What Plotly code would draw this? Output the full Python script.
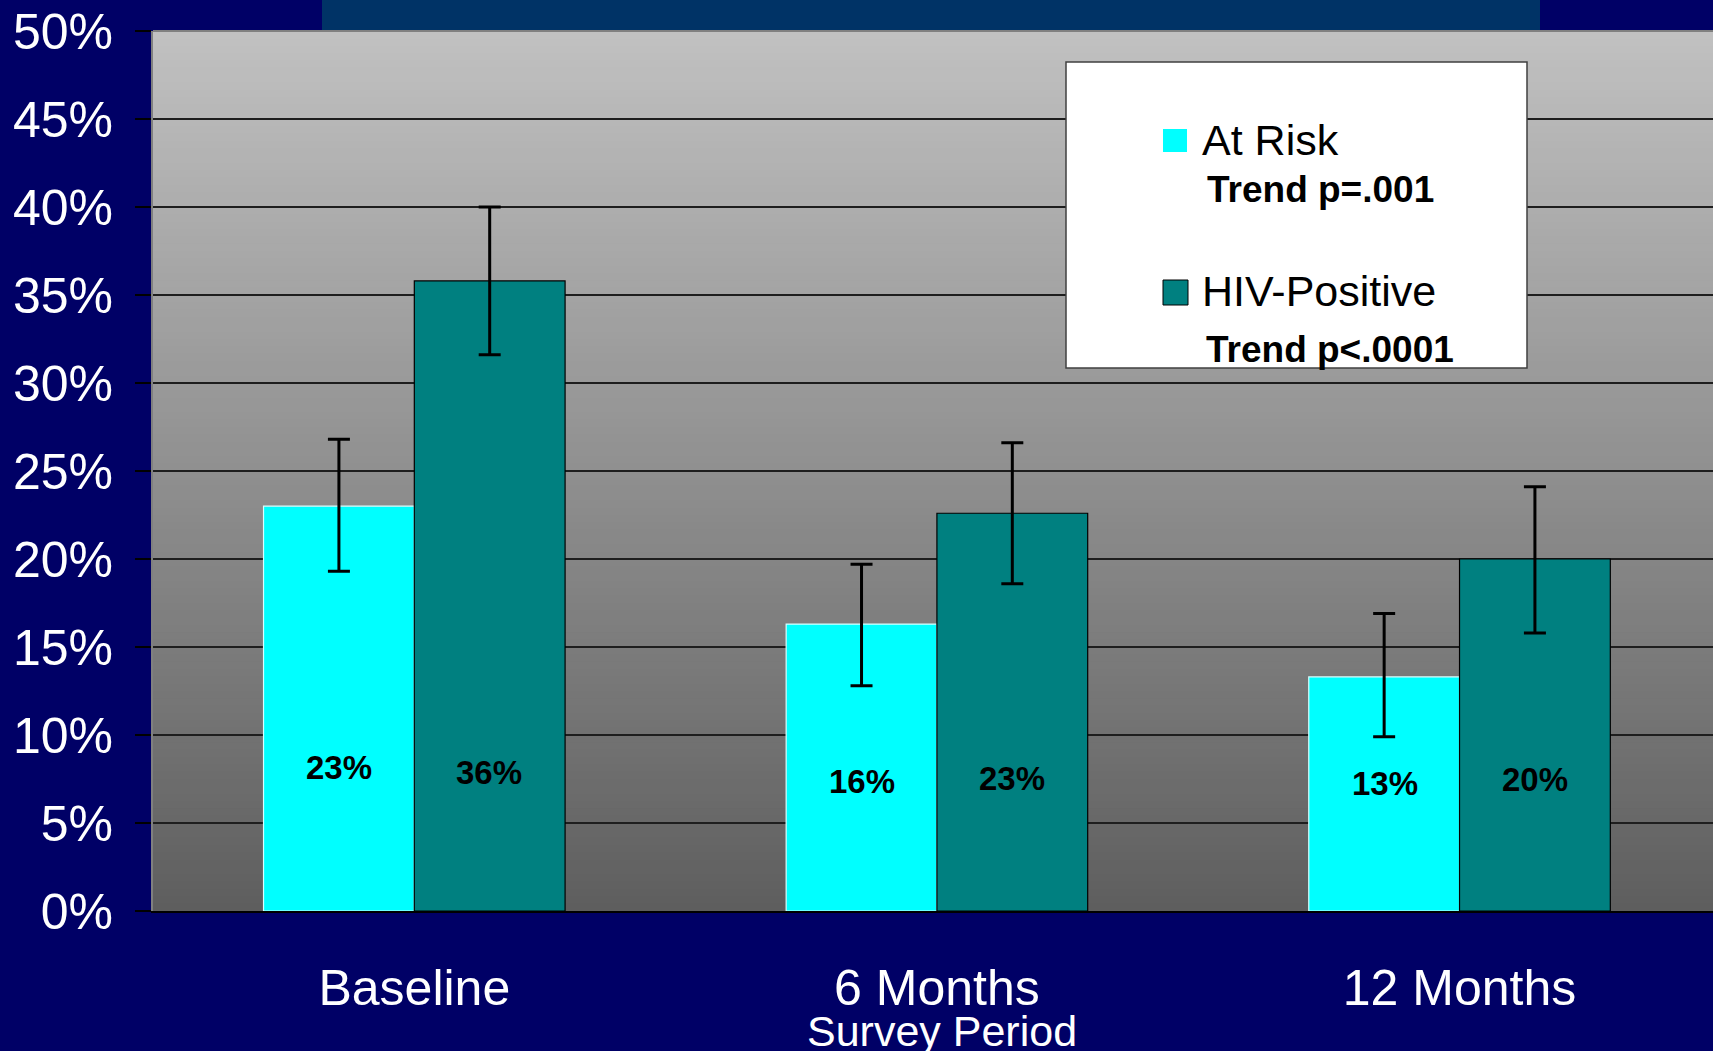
import plotly.graph_objects as go

# ---- data -------------------------------------------------------------
categories = ["Baseline", "6 Months", "12 Months"]
series_names = ["At Risk", "HIV-Positive"]
trend_notes = ["Trend p=.001", "Trend p<.0001"]

at_risk = [0.23, 0.163, 0.133]
hiv_positive = [0.358, 0.226, 0.200]

at_risk_ci_low = [0.193, 0.128, 0.099]
at_risk_ci_high = [0.268, 0.197, 0.169]
hiv_ci_low = [0.316, 0.186, 0.158]
hiv_ci_high = [0.400, 0.266, 0.241]

x_title = "Survey Period"

# ---- styling ------------------------------------------------------------
W, H = 1713, 1051
L, R, T, B = 153, 0, 31, 140
PW, PH = W - L - R, H - T - B

NAVY = "#000066"
BANNER = "#003366"
CYAN = "#00FFFF"
TEAL = "#008080"
FONT = "Liberation Sans, Arial, sans-serif"


def px(x):
    return (x - L) / PW


def py(y):
    return (H - B - y) / PH


def ci(vals, lo, hi):
    plus = [h - v for v, h in zip(vals, hi)]
    minus = [v - l for v, l in zip(vals, lo)]
    return plus, minus


fig = go.Figure()

for name, vals, lo, hi, color, edge in [
    (series_names[0], at_risk, at_risk_ci_low, at_risk_ci_high, CYAN, "#d8ffff"),
    (series_names[1], hiv_positive, hiv_ci_low, hiv_ci_high, TEAL, "#000000"),
]:
    plus, minus = ci(vals, lo, hi)
    fig.add_trace(go.Bar(
        name=name,
        x=categories,
        y=vals,
        marker=dict(color=color, line=dict(color=edge, width=1.2)),
        error_y=dict(type="data", array=plus, arrayminus=minus,
                     color="black", thickness=3, width=11),
        showlegend=False,
    ))

# value labels inside the bars
label_y = 0.076
label_shift = [[10, -4, -6], [5, -1, -2]]
for s, (vals, dx) in enumerate([(at_risk, -75), (hiv_positive, 75)]):
    for i, (cat, v) in enumerate(zip(categories, vals)):
        fig.add_annotation(
            x=cat, y=label_y, xref="x", yref="y", xshift=dx,
            yshift=label_shift[s][i],
            text=f"<b>{v:.0%}</b>", showarrow=False,
            font=dict(family=FONT, size=33, color="black"),
        )

# vertical grey gradient behind the plot area (overlapping strips, no seams)
shapes = []
N = 120
top_c, bot_c = 193, 94
for i in range(N):
    t = (i + 0.5) / N
    g = round(bot_c + (top_c - bot_c) * t)
    shapes.append(dict(
        type="rect", xref="x domain", yref="y domain",
        x0=0, x1=1, y0=i / N, y1=min(1.0, (i + 2) / N),
        fillcolor=f"rgb({g},{g},{g})", line=dict(width=0), layer="below",
    ))

# banner strip across the top
shapes.append(dict(type="rect", xref="paper", yref="paper",
                   x0=px(322), x1=px(1540), y0=py(0), y1=py(T),
                   fillcolor=BANNER, line=dict(width=0), layer="above"))
# top border of plot area
shapes.append(dict(type="line", xref="paper", yref="paper",
                   x0=0, x1=1, y0=1, y1=1,
                   line=dict(color="#808080", width=2), layer="above"))

# legend box
shapes.append(dict(type="rect", xref="paper", yref="paper",
                   x0=px(1066), x1=px(1527), y0=py(368), y1=py(62),
                   fillcolor="white", line=dict(color="#404040", width=1.5),
                   layer="above"))
shapes.append(dict(type="rect", xref="paper", yref="paper",
                   x0=px(1163), x1=px(1187), y0=py(152), y1=py(129),
                   fillcolor=CYAN, line=dict(width=0), layer="above"))
shapes.append(dict(type="rect", xref="paper", yref="paper",
                   x0=px(1163), x1=px(1188), y0=py(305), y1=py(280),
                   fillcolor=TEAL, line=dict(color="black", width=1),
                   layer="above"))

for text, x, y, size, bold in [
    (series_names[0], 1200, 140, 43, False),
    (trend_notes[0], 1205, 189, 37, True),
    (series_names[1], 1200, 291, 43, False),
    (trend_notes[1], 1204, 349, 37, True),
]:
    fig.add_annotation(
        x=px(x), y=py(y), xref="paper", yref="paper",
        xanchor="left", yanchor="middle", showarrow=False,
        text=f"<b>{text}</b>" if bold else text,
        font=dict(family=FONT, size=size, color="black"),
    )

# axis title under the category labels
fig.add_annotation(
    x=px(942), y=py(1031), xref="paper", yref="paper",
    xanchor="center", yanchor="middle", showarrow=False,
    text=x_title, font=dict(family=FONT, size=43, color="white"),
)

fig.update_layout(
    width=W, height=H,
    margin=dict(l=L, r=R, t=T, b=B, pad=0),
    paper_bgcolor=NAVY,
    plot_bgcolor="rgba(0,0,0,0)",
    barmode="group",
    bargap=0.423,
    bargroupgap=0,
    shapes=shapes,
    font=dict(family=FONT, color="white"),
    xaxis=dict(
        type="category",
        range=[-0.5, 2.485],
        showgrid=False,
        showline=True, linecolor="black", linewidth=2,
        ticks="", ticklabelstandoff=32,
        tickfont=dict(family=FONT, size=50, color="white"),
        fixedrange=True,
    ),
    yaxis=dict(
        range=[0, 0.5],
        dtick=0.05,
        tickformat=".0%",
        showgrid=True, gridcolor="#1e1e1e", gridwidth=1.5,
        zeroline=False,
        showline=True, linecolor="#808080", linewidth=2,
        ticks="outside", ticklen=16, tickwidth=2, tickcolor="black",
        ticklabelstandoff=12,
        tickfont=dict(family=FONT, size=50, color="white"),
        fixedrange=True,
    ),
)

fig.write_html("out.html")
